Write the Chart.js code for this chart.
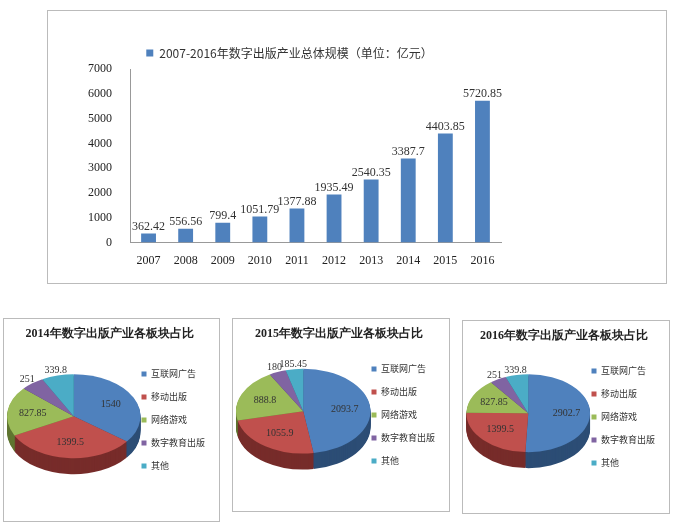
<!DOCTYPE html>
<html><head><meta charset="utf-8">
<script src="https://cdn.jsdelivr.net/npm/chart.js@4"></script>
<style>
body{margin:0;background:#fff;width:675px;height:526px;position:relative;overflow:hidden;font-family:"Noto Sans CJK SC";}
.box{position:absolute;border:1px solid #bbb;background:#fff;}
canvas{display:block}
</style></head><body>
<div class="box" style="left:47px;top:10px;width:618px;height:272px"><canvas id="bar" width="618" height="272"></canvas></div>
<div class="box" style="left:3px;top:318px;width:215px;height:202px"><canvas id="p1" width="215" height="202"></canvas></div>
<div class="box" style="left:232px;top:318px;width:216px;height:192px"><canvas id="p2" width="216" height="192"></canvas></div>
<div class="box" style="left:462px;top:320px;width:206px;height:192px"><canvas id="p3" width="206" height="192"></canvas></div>
<script>
const years=["2007","2008","2009","2010","2011","2012","2013","2014","2015","2016"];
const totals=[362.42,556.56,799.4,1051.79,1377.88,1935.49,2540.35,3387.7,4403.85,5720.85];
const yTicks=[0,1000,2000,3000,4000,5000,6000,7000];
const segments=["互联网广告","移动出版","网络游戏","数字教育出版","其他"];
const v2014=[1540,1399.5,827.85,251,339.8];
const v2015=[2093.7,1055.9,888.8,180,185.45];
const v2016=[2902.7,1399.5,827.85,251,339.8];
const colors=["#4f81bd","#c0504d","#9bbb59","#8064a2","#4bacc6"];
const darks=["#2c4d75","#772c2a","#5f7530","#4d3b62","#276a7c"];
const serif="'Liberation Serif','DejaVu Serif',serif";

const barLabels={id:'bl',afterDatasetsDraw(c){const ctx=c.ctx;ctx.save();ctx.font="12px "+serif;ctx.fillStyle="#333";ctx.textAlign="center";ctx.textBaseline="bottom";
c.getDatasetMeta(0).data.forEach((b,i)=>ctx.fillText(String(totals[i]),b.x,b.y-1));ctx.restore();}};
new Chart(document.getElementById('bar'),{type:'bar',data:{labels:years,datasets:[{label:"2007-2016年数字出版产业总体规模（单位：亿元）",data:totals,backgroundColor:"#4f81bd",barPercentage:0.4,categoryPercentage:1}]},
options:{responsive:false,animation:false,devicePixelRatio:1,
layout:{padding:{left:30,right:165,top:10,bottom:12}},
plugins:{legend:{position:'top',labels:{boxWidth:7,boxHeight:7,color:'#333',font:{size:12,family:"'Noto Sans CJK SC'"},padding:26}},tooltip:{enabled:false}},
scales:{x:{grid:{display:false},border:{color:'#999'},ticks:{color:'#222',font:{size:12,family:serif}}},
y:{min:0,max:7000,afterBuildTicks:a=>{a.ticks=yTicks.map(v=>({value:v}));},grid:{display:false},border:{color:'#999'},ticks:{color:'#222',font:{size:12,family:serif},padding:10,callback:v=>String(v)}}}},
plugins:[barLabels]});

function pie3d(id,vals,title){
 const SX=1.08,SY=0.68,D=16,OFF=-8,DX=8;
 const plug={id:'p3d',
 beforeDatasetDraw(c){const ctx=c.ctx,m=c.getDatasetMeta(0),a=m.data[0];const cx=a.x,cy=a.y;
  ctx.save();ctx.translate(cx+DX,cy+OFF-D/2);ctx.scale(SX,SY);ctx.translate(-cx,-cy);
  for(let d=D;d>0;d--){ctx.save();ctx.translate(0,d/SY);
   m.data.forEach((el,i)=>{const o=el.options.backgroundColor,b=el.options.borderColor;el.options.backgroundColor=darks[i];el.options.borderColor=darks[i];el.draw(ctx);el.options.backgroundColor=o;el.options.borderColor=b;});
   ctx.restore();}
 },
 afterDatasetDraw(c){const ctx=c.ctx;ctx.restore();const m=c.getDatasetMeta(0);const a=m.data[0];const cx=a.x,cy=a.y;
  ctx.save();ctx.font="10px "+serif;ctx.textAlign="center";ctx.textBaseline="middle";
  m.data.forEach((el,i)=>{const mid=(el.startAngle+el.endAngle)/2;let r=el.outerRadius*(i>=3?1.12:0.62);
   const x=cx+DX+Math.cos(mid)*r*SX,y=cy+OFF-D/2+Math.sin(mid)*r*SY;ctx.fillStyle="#333";ctx.fillText(String(vals[i]),x,y);});
  ctx.restore();}};
 new Chart(document.getElementById(id),{type:'pie',data:{labels:segments,datasets:[{data:vals,backgroundColor:colors,borderWidth:0}]},
 options:{responsive:false,animation:false,devicePixelRatio:1,
 layout:{padding:{left:0,right:4,top:0,bottom:0}},
 plugins:{title:{display:true,text:title,color:'#222',font:{size:12,weight:'bold',family:serif},padding:{top:8,bottom:2}},
 legend:{position:'right',labels:{boxWidth:5,boxHeight:5,color:'#333',font:{size:9,family:"'Noto Sans CJK SC'"},padding:14}},tooltip:{enabled:false}}},
 plugins:[plug]});
}
pie3d('p1',v2014,"2014年数字出版产业各板块占比");
pie3d('p2',v2015,"2015年数字出版产业各板块占比");
pie3d('p3',v2016,"2016年数字出版产业各板块占比");
</script>
</body></html>
